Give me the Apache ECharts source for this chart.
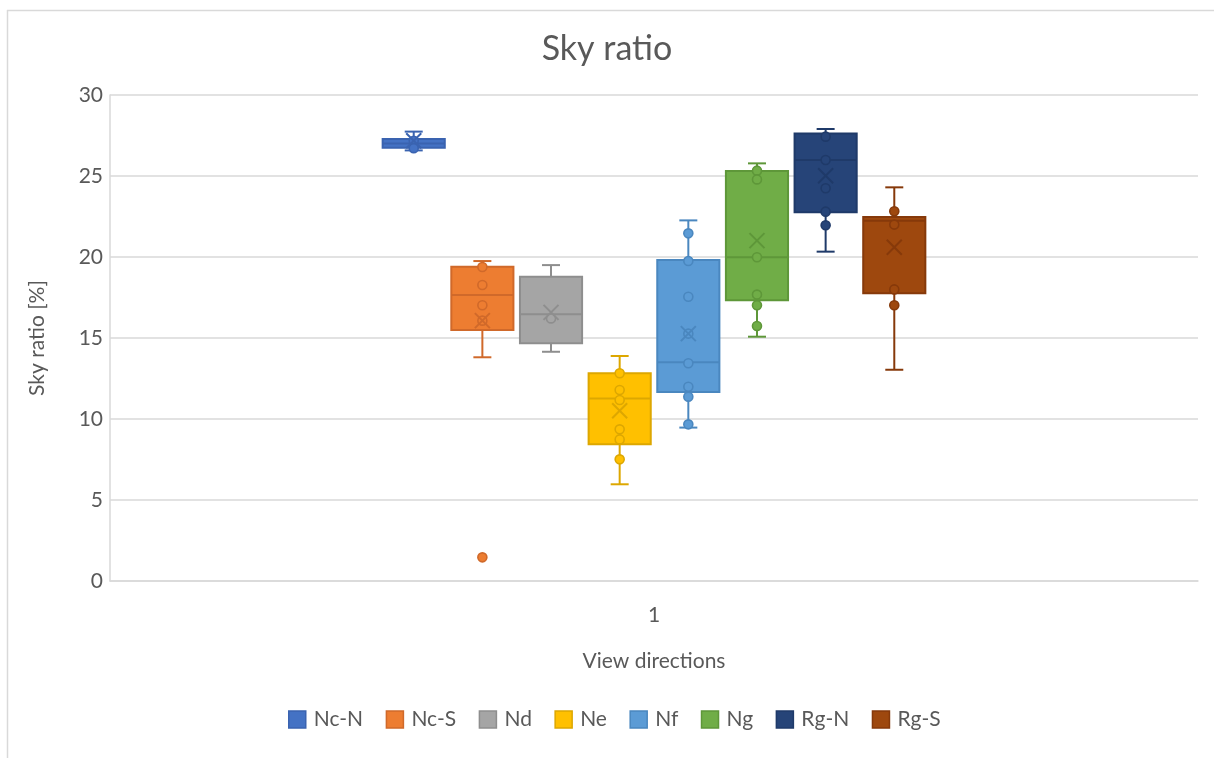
<!DOCTYPE html>
<html>
<head>
<meta charset="utf-8">
<title>Sky ratio</title>
<script src="https://cdn.jsdelivr.net/npm/echarts@6/dist/echarts.min.js"></script>
<style>
  html, body { margin: 0; padding: 0; background: #ffffff; }
  #chart { width: 1214px; height: 758px; }
</style>
</head>
<body>
<div id="chart"></div>
<script>
// Category on the x axis and one box per view direction
const categories = ['1'];
const groupNames = ['Nc-N', 'Nc-S', 'Nd', 'Ne', 'Nf', 'Ng', 'Rg-N', 'Rg-S'];

// Box statistics per group (sky ratio, %)
const whiskerLow  = [26.58, 13.81, 14.15,  5.97,  9.47, 15.08, 20.33, 13.04];
const quartile1   = [26.75, 15.49, 14.67,  8.44, 11.67, 17.33, 22.76, 17.76];
const medians     = [27.00, 17.65, 16.46, 11.26, 13.50, 19.98, 25.99, 22.24];
const quartile3   = [27.28, 19.40, 18.78, 12.82, 19.81, 25.31, 27.63, 22.47];
const whiskerHigh = [27.74, 19.75, 19.50, 13.89, 22.26, 25.78, 27.90, 24.30];
const means       = [27.18, 16.07, 16.58, 10.51, 15.27, 21.01, 25.02, 20.60];

// Individual observations shown as markers (includes the Nc-S outlier)
const samplePoints = [
  [27.18, 26.72],
  [19.38, 18.27, 17.02, 16.07, 1.46],
  [16.21],
  [12.82, 11.79, 11.17, 9.36, 8.74, 7.51],
  [21.46, 19.75, 17.55, 15.27, 13.44, 11.99, 11.38, 9.67],
  [25.33, 24.79, 19.98, 17.68, 17.02, 15.74],
  [27.43, 25.99, 24.24, 22.80, 21.96],
  [22.82, 22.00, 18.00, 17.02]
];

// Y axis ticks
const yMin = 0, yMax = 30, yStep = 5;

// Styling
const fillColors = ['#4472C4', '#ED7D31', '#A5A5A5', '#FFC000', '#5B9BD5', '#70AD47', '#264478', '#9E480E'];
const lineColors = ['#3A63B0', '#D0692A', '#8E8E8E', '#DDA700', '#4A87BF', '#5E9739', '#1F3A69', '#86390A'];
const FONT = 'Lato, "Open Sans", sans-serif';
const TEXT = '#595959';
const GRID = '#D9D9D9';
const SLOT_RATIO = 0.0631;   // share of the category band given to each box slot
const BOX_FILL = 0.905;      // box width as share of its slot

function makeRenderer(idx) {
  return function (params, api) {
    const xCenter = api.coord([api.value(0), 0])[0];
    const band = api.size([1, 0])[0];
    const step = band * SLOT_RATIO;
    const boxW = step * BOX_FILL;
    const cx = xCenter + (idx - (groupNames.length - 1) / 2) * step;
    const y = v => api.coord([api.value(0), v])[1];
    const yLo = y(api.value(1)), yQ1 = y(api.value(2)), yMed = y(api.value(3));
    const yQ3 = y(api.value(4)), yHi = y(api.value(5)), yMean = y(api.value(6));
    const line = lineColors[idx], fill = fillColors[idx];
    const capHalf = 9, xHalf = 7.5;
    const lineStyle = { stroke: line, lineWidth: 2, fill: null };
    const children = [
      { type: 'line', shape: { x1: cx, y1: yQ3, x2: cx, y2: yHi }, style: lineStyle },
      { type: 'line', shape: { x1: cx, y1: yQ1, x2: cx, y2: yLo }, style: lineStyle },
      { type: 'line', shape: { x1: cx - capHalf, y1: yHi, x2: cx + capHalf, y2: yHi }, style: lineStyle },
      { type: 'line', shape: { x1: cx - capHalf, y1: yLo, x2: cx + capHalf, y2: yLo }, style: lineStyle },
      { type: 'rect', shape: { x: cx - boxW / 2, y: yQ3, width: boxW, height: yQ1 - yQ3 },
        style: { fill: fill, stroke: line, lineWidth: 2 } },
      { type: 'line', shape: { x1: cx - boxW / 2, y1: yMed, x2: cx + boxW / 2, y2: yMed }, style: lineStyle }
    ];
    samplePoints[idx].forEach(v => {
      children.push({ type: 'circle', shape: { cx: cx, cy: y(v), r: 4.5 },
        style: { fill: fill, stroke: line, lineWidth: 1.6 } });
    });
    children.push(
      { type: 'line', shape: { x1: cx - xHalf, y1: yMean - xHalf, x2: cx + xHalf, y2: yMean + xHalf }, style: lineStyle },
      { type: 'line', shape: { x1: cx - xHalf, y1: yMean + xHalf, x2: cx + xHalf, y2: yMean - xHalf }, style: lineStyle }
    );
    return { type: 'group', children: children };
  };
}

const series = groupNames.map((name, i) => ({
  name: name,
  type: 'custom',
  renderItem: makeRenderer(i),
  itemStyle: { color: fillColors[i], borderColor: lineColors[i] },
  encode: { x: 0, y: [1, 2, 3, 4, 5, 6] },
  data: [[0, whiskerLow[i], quartile1[i], medians[i], quartile3[i], whiskerHigh[i], means[i]]],
  z: 3
}));

const chart = echarts.init(document.getElementById('chart'), null, { renderer: 'canvas' });
chart.setOption({
  backgroundColor: '#ffffff',
  animation: false,
  title: {
    text: 'Sky ratio',
    left: 'center',
    top: 27,
    textStyle: { fontFamily: FONT, fontSize: 34, fontWeight: 'normal', color: TEXT }
  },
  grid: { left: 110, right: 16, top: 95, bottom: 177 },
  legend: {
    data: groupNames.map((n, i) => ({
      name: n,
      itemStyle: { color: fillColors[i], borderColor: lineColors[i], borderWidth: 1.5 }
    })),
    icon: 'rect',
    left: 283,
    top: 704,
    itemWidth: 17,
    itemHeight: 17,
    itemGap: 22.5,
    textStyle: { fontFamily: FONT, fontSize: 21, color: TEXT, padding: [0, 0, 0, 3] }
  },
  xAxis: {
    type: 'category',
    data: categories,
    name: 'View directions',
    nameLocation: 'middle',
    nameGap: 70,
    nameTextStyle: { fontFamily: FONT, fontSize: 21, color: TEXT },
    axisLine: { lineStyle: { color: GRID, width: 1.5 } },
    axisTick: { show: false },
    axisLabel: { fontFamily: FONT, fontSize: 21, color: TEXT, margin: 24 },
    splitLine: { show: false }
  },
  yAxis: {
    type: 'value',
    min: yMin,
    max: yMax,
    interval: yStep,
    name: 'Sky ratio [%]',
    nameLocation: 'middle',
    nameGap: 62,
    nameTextStyle: { fontFamily: FONT, fontSize: 21, color: TEXT },
    axisLine: { show: true, lineStyle: { color: GRID, width: 1.5 } },
    axisTick: { show: false },
    axisLabel: { fontFamily: FONT, fontSize: 21, color: TEXT, margin: 7 },
    splitLine: { lineStyle: { color: GRID, width: 1.5 } }
  },
  graphic: [
    { type: 'line', shape: { x1: 7.5, y1: 10, x2: 7.5, y2: 758 }, style: { stroke: GRID, lineWidth: 1.5 }, silent: true },
    { type: 'line', shape: { x1: 7, y1: 10.5, x2: 1214, y2: 10.5 }, style: { stroke: GRID, lineWidth: 1.5 }, silent: true }
  ],
  series: series
});
</script>
</body>
</html>
